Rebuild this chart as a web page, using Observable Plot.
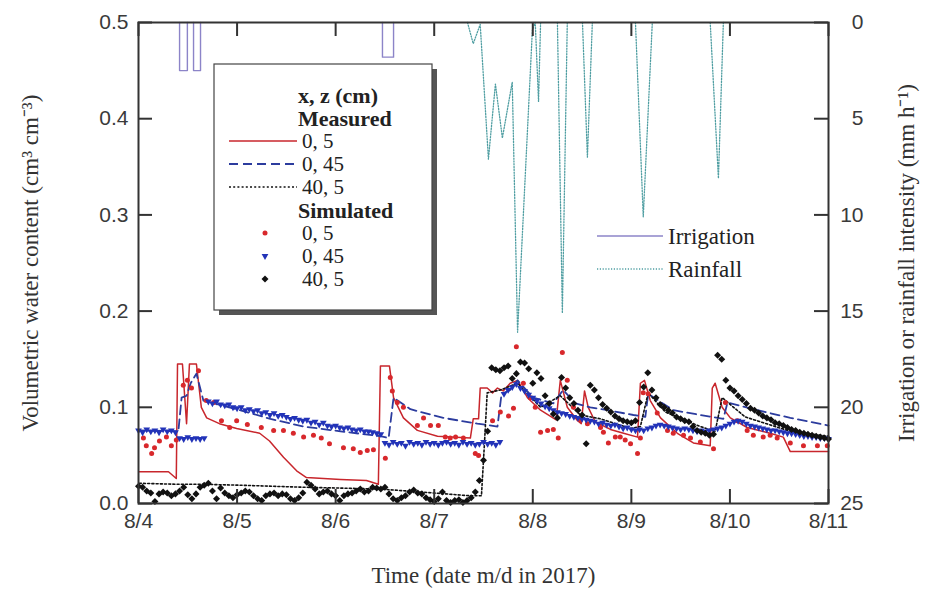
<!DOCTYPE html>
<html><head><meta charset="utf-8">
<script src="https://cdn.jsdelivr.net/npm/d3@7"></script>
<script src="https://cdn.jsdelivr.net/npm/@observablehq/plot@0.6"></script>
<style>
html,body{margin:0;padding:0;background:#fff;}
#chart{position:relative;width:948px;height:594px;}
</style></head><body><div id="chart"></div>
<script>
// ---------- tick labels ----------
const dayTicks = ["8/4","8/5","8/6","8/7","8/8","8/9","8/10","8/11"];
const vwcTicks = [0, 0.1, 0.2, 0.3, 0.4, 0.5];
const rateTicks = [0, 5, 10, 15, 20, 25];

// ---------- measured (hours after 8/4 00:00, cm3 cm-3) ----------
const measHours_0_5 = [0.2,7.3,9.2,9.5,10.7,11.7,12.4,14.1,15.3,16.6,19.7,23.9,29.5,31.9,35.3,38.5,40.9,49.2,55.5,58.4,58.9,61.1,62.1,64.5,67.9,72.8,80.8,81.5,82.8,83.2,84.9,86.2,87.4,88.8,90.5,92.3,94.7,97.9,101.7,102.7,104.4,106.9,107.8,108.6,109.5,111.2,114.9,118.1,121.5,122.2,123.2,124.6,127.1,131.2,135.1,139.2,139.7,140.4,142.1,144.1,148.2,153.8,157.0,158.7,168];
const measVals_0_5 = [0.033,0.033,0.026,0.145,0.145,0.083,0.145,0.145,0.100,0.089,0.083,0.078,0.073,0.065,0.048,0.034,0.027,0.025,0.024,0.020,0.143,0.143,0.110,0.089,0.076,0.070,0.068,0.088,0.088,0.120,0.120,0.115,0.120,0.117,0.125,0.128,0.110,0.097,0.087,0.128,0.100,0.086,0.083,0.117,0.100,0.085,0.077,0.073,0.069,0.125,0.128,0.107,0.089,0.073,0.063,0.060,0.120,0.125,0.100,0.089,0.079,0.073,0.069,0.054,0.054];

const measHours_0_45 = [0.2,9.7,10.5,11.7,12.7,14.1,15.8,23.9,32.1,40.2,49.2,58.9,60.9,62.1,66.2,74.2,82.5,87.4,88.4,90.5,92.3,96.1,101.0,103.4,106.4,110.0,114.2,120.5,123.4,124.1,130.2,136.8,142.4,143.4,150.7,158.7,168];
const measVals_0_45 = [0.076,0.075,0.110,0.112,0.125,0.135,0.107,0.098,0.088,0.080,0.075,0.070,0.068,0.110,0.098,0.089,0.083,0.080,0.114,0.118,0.128,0.110,0.104,0.118,0.104,0.100,0.097,0.092,0.090,0.114,0.097,0.092,0.088,0.105,0.097,0.089,0.081];

const measHours_40_5 = [0.2,9.5,15.1,24.8,39.4,58.9,68.6,80.8,83.5,84.2,84.9,88.1,92.3,97.9,102.7,107.6,112.5,119.8,122.2,124.1,128.3,136.8,140.4,142.1,147.7,158.7,168];
const measVals_40_5 = [0.021,0.020,0.020,0.019,0.017,0.015,0.012,0.008,0.008,0.060,0.115,0.118,0.125,0.100,0.112,0.092,0.088,0.078,0.080,0.115,0.095,0.080,0.075,0.110,0.090,0.075,0.070];

// ---------- simulated ----------
const simHours_0_5 = [1.2,1.9,3.2,3.9,5.1,6.8,8.0,9.2,10.9,11.9,12.9,14.6,16.5,18.3,20.2,22.2,23.9,26.5,29.9,32.9,35.3,37.7,40.2,42.6,44.5,46.5,49.9,52.3,54.0,55.7,57.2,60.1,61.3,61.8,63.0,64.5,67.9,69.4,71.1,73.0,74.7,75.9,77.2,79.1,82.0,82.8,86.2,88.1,90.1,91.3,92.0,93.7,95.4,96.6,97.9,99.6,101.0,102.2,103.2,104.4,105.9,107.6,109.3,112.5,113.2,114.4,116.1,117.3,118.5,119.8,121.5,122.2,122.9,124.1,126.3,128.8,130.2,132.7,134.4,136.8,140.0,142.9,145.8,148.2,149.7,152.1,153.8,155.5,158.7,161.9,165.3,167.7];
const simVals_0_5 = [0.068,0.060,0.052,0.058,0.065,0.069,0.060,0.066,0.123,0.128,0.120,0.138,0.107,0.105,0.086,0.079,0.086,0.082,0.079,0.076,0.076,0.073,0.069,0.071,0.068,0.062,0.058,0.057,0.053,0.055,0.056,0.047,0.131,0.117,0.105,0.100,0.081,0.089,0.081,0.081,0.069,0.068,0.069,0.068,0.052,0.050,0.086,0.095,0.091,0.099,0.163,0.125,0.110,0.100,0.074,0.076,0.077,0.068,0.157,0.128,0.100,0.087,0.083,0.079,0.074,0.063,0.069,0.069,0.066,0.062,0.052,0.068,0.115,0.114,0.094,0.076,0.073,0.071,0.068,0.064,0.057,0.105,0.086,0.076,0.071,0.069,0.071,0.068,0.063,0.060,0.060,0.060];

// hourly output, hour 0 .. 168
const simHourly_0_45 = [0.076,0.074,0.077,0.075,0.076,0.074,0.077,0.075,0.076,0.074,
0.068,0.067,0.069,0.067,0.068,0.067,0.068,
0.106,0.104,0.106,0.103,0.102,0.103,0.100,0.099,0.100,0.097,0.098,0.096,0.097,0.094,0.095,0.092,0.094,0.091,0.092,0.090,0.088,0.089,0.087,0.086,0.087,0.084,0.085,0.082,0.084,0.081,0.080,0.081,0.079,0.078,0.079,0.077,0.076,0.077,0.075,0.075,0.074,0.073,0.072,
0.063,0.061,0.064,0.062,0.063,0.060,0.064,0.062,0.063,0.061,0.064,0.062,0.063,0.061,0.063,0.064,0.062,0.063,0.061,0.064,0.062,0.063,0.061,0.062,0.064,0.062,0.063,0.061,0.064,
0.114,0.118,0.121,0.124,0.120,0.117,0.113,0.110,0.107,0.104,
0.101,0.099,0.097,0.095,0.094,0.093,0.091,0.090,0.089,0.088,
0.087,0.086,0.085,0.083,0.084,0.082,0.081,0.082,0.080,0.078,
0.079,0.077,0.076,0.077,0.076,0.078,0.079,0.081,0.082,0.081,
0.080,0.079,0.078,0.077,0.078,0.077,0.076,0.075,0.076,0.075,
0.076,0.077,0.078,0.079,0.081,0.083,0.085,0.086,0.085,0.083,
0.081,0.080,0.079,0.078,0.077,0.076,0.076,0.075,0.074,0.073,
0.073,0.072,0.071,0.070,0.070,0.069,0.069,0.068,0.068,0.067];

const simHourly_40_5 = [0.018,0.017,0.013,0.011,0.002,0.010,0.012,0.011,0.008,0.010,
0.013,0.017,0.009,0.005,0.010,0.017,0.019,0.021,0.013,0.005,
0.016,0.011,0.008,0.006,0.009,0.011,0.013,0.012,0.008,0.005,
0.003,0.008,0.010,0.011,0.008,0.010,0.009,0.005,0.003,0.006,
0.011,0.022,0.019,0.015,0.010,0.012,0.013,0.010,0.008,0.003,
0.008,0.010,0.011,0.013,0.015,0.012,0.013,0.017,0.016,0.015,
0.017,0.010,0.005,0.003,0.006,0.008,0.012,0.014,0.011,0.010,
0.006,0.004,0.002,0.005,0.012,0.003,0.001,0.003,0.004,0.001,
0.003,0.006,0.012,0.024,0.045,0.075,0.141,0.139,0.138,0.141,
0.143,0.130,0.135,0.147,0.146,0.140,0.125,0.136,0.130,0.112,
0.104,0.093,0.089,0.131,0.120,0.110,0.104,0.097,0.092,0.062,
0.123,0.118,0.110,0.103,0.099,0.095,0.091,0.088,0.086,0.085,
0.084,0.086,0.105,0.121,0.136,0.118,0.110,0.103,0.100,0.097,
0.094,0.090,0.088,0.086,0.085,0.080,0.076,0.074,0.073,0.071,
0.072,0.154,0.150,0.128,0.120,0.117,0.112,0.108,0.104,0.099,
0.097,0.094,0.091,0.089,0.087,0.084,0.083,0.081,0.079,0.077,
0.076,0.074,0.073,0.072,0.071,0.070,0.069,0.068,0.067];

// ---------- irrigation & rainfall (mm h-1, right axis) ----------
const irrigStartHours = [10.0, 13.4, 59.4];
const irrigEndHours   = [11.9, 15.1, 62.1];
const irrigRates      = [2.5, 2.5, 1.8];

const rainHours = [[80.1,81.5,83.2,85.2,86.9,88.6,91.0,92.3,95.9,96.6,97.4,97.9],[102.0,103.2,104.4],[108.1,109.3,110.5],[121.0,122.9,125.1],[139.2,141.2,142.4]];
const rainRates = [[0,1.1,0.1,7.1,3.2,6.0,3.1,16.1,0.4,0,4.1,0],[0,15.1,0],[0,7.0,0],[0,10.1,0],[0,8.1,0]];

// ---------- helpers ----------
const T0 = Date.UTC(2017, 7, 4);
const at = h => new Date(T0 + h * 3600e3);
const parseDay = s => { const [m, d] = s.split("/").map(Number); return new Date(Date.UTC(2017, m - 1, d)); };
const rateToY = r => 0.5 - r * 0.5 / 25;   // right axis 0 (top) .. 25 (bottom)

const zip = (hs, vs) => hs.map((h, i) => ({t: at(h), v: vs[i]}));
const hourly = vs => vs.map((v, i) => ({t: at(i), v}));

const meas05 = zip(measHours_0_5, measVals_0_5);
const meas045 = zip(measHours_0_45, measVals_0_45);
const meas405 = zip(measHours_40_5, measVals_40_5);
const sim05 = zip(simHours_0_5, simVals_0_5);
const sim045 = hourly(simHourly_0_45);
const sim405 = hourly(simHourly_40_5);

const irrig = irrigStartHours.flatMap((s, i) => [
  {t: at(s), r: 0, e: i}, {t: at(s), r: irrigRates[i], e: i},
  {t: at(irrigEndHours[i]), r: irrigRates[i], e: i}, {t: at(irrigEndHours[i]), r: 0, e: i}]);
const rain = rainHours.flatMap((hs, i) => hs.map((h, j) => ({t: at(h), r: rainRates[i][j], e: i})));

const dayDates = dayTicks.map(parseDay);

// ---------- style ----------
const RED_LINE = "#c8262c", RED_DOT = "#d8282c";
const BLUE_LINE = "#2c3c9e", BLUE_DOT = "#2233b8";
const BLACK = "#111";
const TEAL = "#4f9ea2", LAV = "#8c84c8";
const AX = "#333";
const W = 948, H = 594, ML = 138, MR = 120, MT = 22, MB = 91;
const FW = W - ML - MR, FH = H - MT - MB, TICK = 14;
const SERIF = "'Liberation Serif','Times New Roman',serif";

const svg = Plot.plot({
  width: W, height: H,
  marginLeft: ML, marginRight: MR, marginTop: MT, marginBottom: MB,
  style: {fontFamily: "'Liberation Sans',Arial,sans-serif", fontSize: "21px", color: "#3a3a3a", background: "#fff", overflow: "visible"},
  x: {type: "utc", domain: [at(0), at(168)]},
  y: {domain: [0, 0.5]},
  marks: [
    // irrigation & rainfall on the reversed right axis
    Plot.line(irrig, {x: "t", y: d => rateToY(d.r), z: "e", stroke: LAV, strokeWidth: 1.4}),
    Plot.line(rain, {x: "t", y: d => rateToY(d.r), z: "e", stroke: TEAL, strokeWidth: 1.3, strokeDasharray: "1.2,1.6"}),
    // measured
    Plot.line(meas05, {x: "t", y: "v", stroke: RED_LINE, strokeWidth: 1.5}),
    Plot.line(meas045, {x: "t", y: "v", stroke: BLUE_LINE, strokeWidth: 1.8, strokeDasharray: "9,5"}),
    Plot.line(meas405, {x: "t", y: "v", stroke: BLACK, strokeWidth: 1.6, strokeDasharray: "2,2.2"}),
    // simulated
    Plot.dot(sim05, {x: "t", y: "v", r: 2.5, fill: RED_DOT}),
    Plot.dot(sim045, {x: "t", y: "v", r: 2.5, symbol: "triangle", rotate: 180, fill: BLUE_DOT}),
    Plot.dot(sim405, {x: "t", y: "v", r: 2.8, symbol: "square", rotate: 45, fill: BLACK}),
    // frame & inward ticks
    Plot.frame({stroke: AX, strokeWidth: 2}),
    Plot.tickX(dayDates, {x: d => d, insetTop: FH - TICK, stroke: AX, strokeWidth: 2}),
    Plot.tickX(dayDates, {x: d => d, insetBottom: FH - TICK, stroke: AX, strokeWidth: 2}),
    Plot.tickY(vwcTicks, {y: d => d, insetRight: FW - TICK, stroke: AX, strokeWidth: 2}),
    Plot.tickY(rateTicks, {y: r => rateToY(r), insetLeft: FW - TICK, stroke: AX, strokeWidth: 2}),
    // tick labels
    Plot.axisX(dayDates, {tickSize: 0, tickPadding: 10, label: null, tickFormat: d => `${d.getUTCMonth() + 1}/${d.getUTCDate()}`}),
    Plot.axisY(vwcTicks, {tickSize: 0, tickPadding: 10, label: null, tickFormat: d => d.toFixed(1)}),
    Plot.text(rateTicks, {y: r => rateToY(r), text: r => String(r), frameAnchor: "right", textAnchor: "end", dx: 35}),
    // axis titles
    Plot.text(["Volumetric water content (cm³ cm⁻³)"], {text: d => d, frameAnchor: "left", textAnchor: "middle", dx: -108, rotate: -90, fontFamily: SERIF, fontSize: 23, fill: "#333"}),
    Plot.text(["Irrigation or rainfall intensity (mm h⁻¹)"], {text: d => d, frameAnchor: "right", textAnchor: "middle", dx: 78, rotate: -90, fontFamily: SERIF, fontSize: 23, fill: "#333"}),
    Plot.text(["Time (date m/d in 2017)"], {text: d => d, frameAnchor: "bottom", textAnchor: "middle", dy: 79, fontFamily: SERIF, fontSize: 23, fill: "#333"})
  ]
});
document.getElementById("chart").appendChild(svg);

// ---------- legends ----------
const root = d3.select(svg);
const lg = root.append("g").attr("font-family", SERIF).attr("font-size", 21).attr("fill", "#222").attr("text-anchor", "start");
// shadowed box
lg.append("rect").attr("x", 219).attr("y", 69).attr("width", 218).attr("height", 246).attr("fill", "#555");
lg.append("rect").attr("x", 214).attr("y", 64).attr("width", 218).attr("height", 246).attr("fill", "#fff").attr("stroke", "#444").attr("stroke-width", 1.2);

const head = (txt, y) => lg.append("text").attr("x", 298).attr("y", y).attr("dy", "0.35em").attr("font-weight", "bold").attr("font-size", 22).text(txt);
const label = (txt, y) => lg.append("text").attr("x", 302).attr("y", y).attr("dy", "0.35em").text(txt);
head("x, z (cm)", 95);
head("Measured", 118);
const lineItem = (y, color, dash, w) => lg.append("line").attr("x1", 229).attr("x2", 297).attr("y1", y).attr("y2", y)
  .attr("stroke", color).attr("stroke-width", w).attr("stroke-dasharray", dash);
lineItem(141, RED_LINE, null, 1.6); label("0, 5", 141);
lineItem(164, BLUE_LINE, "9,5", 1.8); label("0, 45", 164);
lineItem(187, BLACK, "2,2.2", 1.6); label("40, 5", 187);
head("Simulated", 210);
const sym = (type, r) => d3.symbol(type, Math.PI * r * r)();
lg.append("circle").attr("cx", 265).attr("cy", 233).attr("r", 2.5).attr("fill", RED_DOT);
lg.append("path").attr("d", sym(d3.symbolTriangle, 2.5)).attr("transform", "translate(265,256) rotate(180)").attr("fill", BLUE_DOT);
lg.append("path").attr("d", sym(d3.symbolSquare, 2.8)).attr("transform", "translate(265,279) rotate(45)").attr("fill", BLACK);
label("0, 5", 233); label("0, 45", 256); label("40, 5", 279);

const lg2 = root.append("g").attr("font-family", SERIF).attr("font-size", 23).attr("fill", "#222").attr("text-anchor", "start");
lg2.append("line").attr("x1", 597).attr("x2", 663).attr("y1", 236).attr("y2", 236).attr("stroke", LAV).attr("stroke-width", 1.5);
lg2.append("line").attr("x1", 597).attr("x2", 663).attr("y1", 269).attr("y2", 269).attr("stroke", TEAL).attr("stroke-width", 1.3).attr("stroke-dasharray", "1.2,1.6");
lg2.append("text").attr("x", 668).attr("y", 236).attr("dy", "0.35em").text("Irrigation");
lg2.append("text").attr("x", 668).attr("y", 269).attr("dy", "0.35em").text("Rainfall");
</script>
</body></html>
